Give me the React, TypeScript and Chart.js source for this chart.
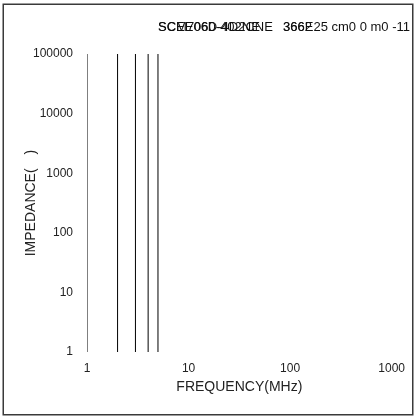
import React, { useEffect, useRef } from "react";
import { Chart, registerables } from "chart.js";

Chart.register(...registerables);

// Data
const frequencies = [1, 2, 3, 4, 5];
const impedanceRange = [1, 100000];
const xTicks = [1, 10, 100, 1000];
const yTicks = [1, 10, 100, 1000, 10000, 100000];
const titleLeftA = "SCM7060-402NE";
const titleLeftB = "SCEE06D-4D2CNE";
const titleRightA = "366E25 cm0 0 m0 -11";
const titleRightB = "3662";

const FONT = "'Liberation Sans', Arial, sans-serif";

const framePlugin = {
  id: "frame",
  afterDraw(chart: any) {
    const ctx = chart.ctx;
    ctx.save();
    ctx.strokeStyle = "#3a3a3a";
    ctx.lineWidth = 1.5;
    ctx.strokeRect(3.25, 4.25, 409.5, 410.5);
    ctx.fillStyle = "#111";
    ctx.font = `13px ${FONT}`;
    ctx.textBaseline = "middle";
    ctx.textAlign = "left";
    ctx.fillText(titleLeftA, 158, 27);
    ctx.fillText(titleLeftB, 158, 27);
    const xA = 410 - ctx.measureText(titleRightA).width;
    ctx.fillText(titleRightA, xA, 27);
    ctx.fillText(titleRightB, xA, 27);
    ctx.restore();
  },
};

export default function App() {
  const ref = useRef<HTMLCanvasElement | null>(null);
  useEffect(() => {
    if (!ref.current) return;
    const datasets = frequencies.map((f) => ({
      label: `${f} MHz`,
      data: impedanceRange.map((y) => ({ x: f, y })),
      borderColor: "#000",
      backgroundColor: "#000",
      borderWidth: 1,
      pointRadius: 0,
      fill: false,
    }));
    const chart = new Chart(ref.current, {
      type: "line",
      data: { datasets },
      plugins: [framePlugin],
      options: {
        responsive: false,
        animation: false,
        layout: { padding: { top: 54, right: 22, bottom: 0, left: 0 } },
        plugins: {
          legend: { display: false },
          tooltip: { enabled: false },
          title: { display: false },
        },
        scales: {
          x: {
            type: "logarithmic",
            min: 1,
            max: 1000,
            grid: { display: false, drawTicks: false },
            border: { display: false },
            afterBuildTicks: (s: any) => {
              s.ticks = xTicks.map((v) => ({ value: v }));
            },
            afterFit: (s: any) => {
              s.height = 65;
            },
            ticks: {
              padding: 9,
              color: "#222",
              font: { family: FONT, size: 12 },
              maxRotation: 0,
              autoSkip: false,
              callback: (v: any) => String(v),
            },
            title: {
              display: true,
              text: "FREQUENCY(MHz)",
              color: "#222",
              font: { family: FONT, size: 14 },
              padding: { top: 0, bottom: 21 },
            },
          },
          y: {
            type: "logarithmic",
            min: 1,
            max: 100000,
            grid: { display: false, drawTicks: false },
            border: { display: false },
            afterBuildTicks: (s: any) => {
              s.ticks = yTicks.map((v) => ({ value: v }));
            },
            afterFit: (s: any) => {
              s.width = 87;
            },
            ticks: {
              padding: 14,
              color: "#222",
              font: { family: FONT, size: 12 },
              autoSkip: false,
              callback: (v: any) => String(v),
            },
            title: {
              display: true,
              text: "IMPEDANCE(\u2003)",
              color: "#222",
              font: { family: FONT, size: 14 },
              padding: { top: 23, bottom: 0 },
            },
          },
        },
      },
    });
    return () => chart.destroy();
  }, []);
  return (
    <div style={{ position: "absolute", left: 0, top: 0, width: 414, height: 417, background: "#fff" }}>
      <canvas ref={ref} width={414} height={417} />
    </div>
  );
}
